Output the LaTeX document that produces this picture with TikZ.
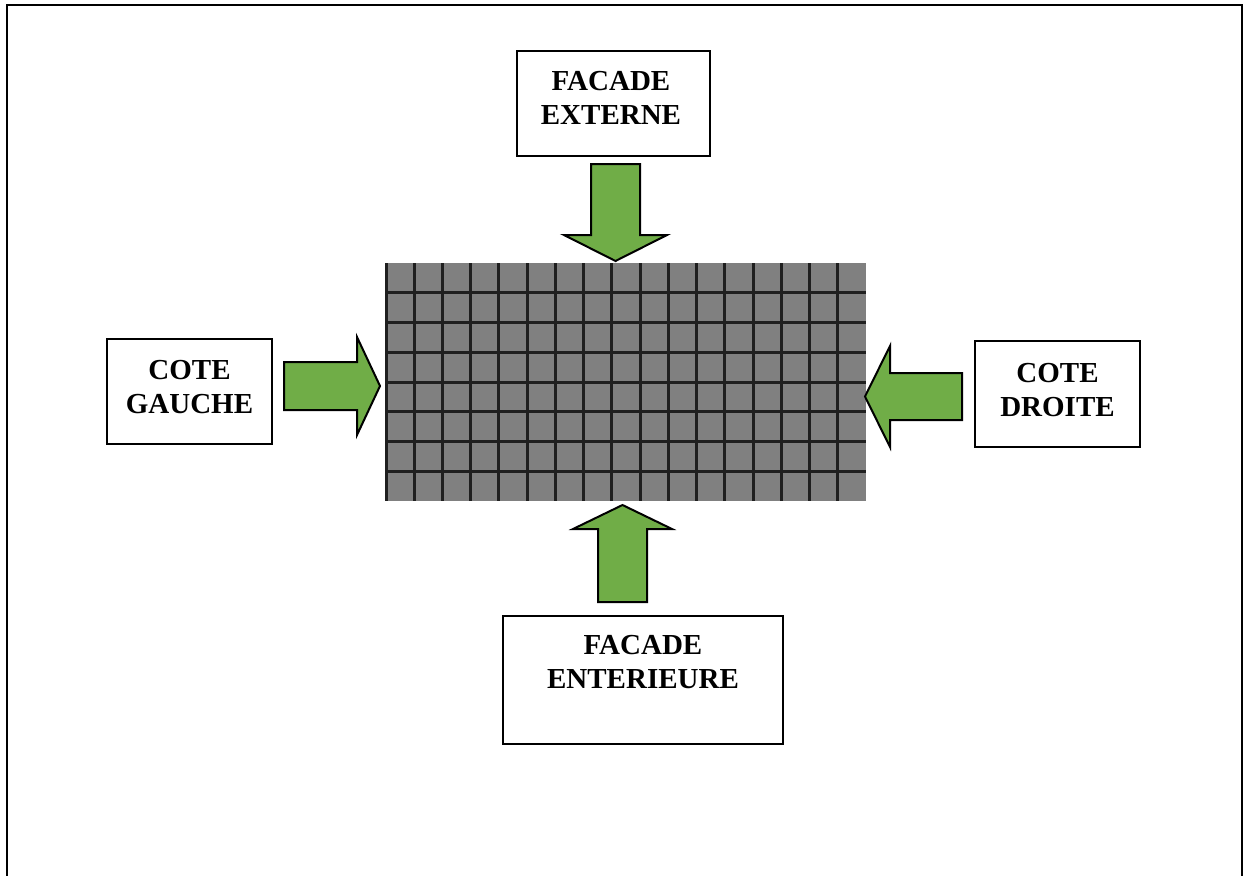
\documentclass[tikz,border=0pt]{standalone}
\usepackage{fontspec}
\setmainfont{Liberation Serif}
\usetikzlibrary{positioning}
\definecolor{arrowgreen}{HTML}{70AD47}
\definecolor{cellgray}{HTML}{808080}

\begin{document}
\begin{tikzpicture}[x=0.5pt,y=-0.5pt]
\tikzset{box/.style={draw, line width=1pt, inner sep=0pt},
	lbl/.style={font=\bfseries\fontsize{14.5}{17}\selectfont, align=center},
	bigarrow/.style={draw, line width=1pt, fill=arrowgreen, line join=miter},
	gridline/.style={line width=1.5pt, black!88}}
\useasboundingbox (0,0) rectangle (1244,875);
% cadre
\draw[line width=1.2pt] (7,880) -- (7,5) -- (1242,5) -- (1242,880);

% mur
\node[fill=cellgray, inner sep=0pt, minimum width=240pt, minimum height=119pt] (mur) at (626,382) {};
\foreach \i in {0,...,16}
	\draw[gridline] ({386+\i*480/17},263) -- ({386+\i*480/17},501);
\foreach \j in {1,...,7}
	\draw[gridline] (386,{263+\j*29.75}) -- (866,{263+\j*29.75});

% cases
\node[box, minimum width=96.5pt, minimum height=52.5pt] (externe) at (613.5,103.5) {};
\node[lbl] (externeT) at (611,98) {FACADE\\EXTERNE};
\node[box, minimum width=82.5pt, minimum height=52.5pt] (gauche) at (189.5,391.5) {};
\node[lbl] (gaucheT) at (189.5,387) {COTE\\GAUCHE};
\node[box, minimum width=82.5pt, minimum height=53pt] (droite) at (1057.5,394) {};
\node[lbl] (droiteT) at (1057.5,390) {COTE\\DROITE};
\node[box, minimum width=140pt, minimum height=64pt] (interieure) at (643,680) {};
\node[lbl] (interieureT) at (643,662.5) {FACADE\\ENTERIEURE};

% fleches
\draw[bigarrow] (591,164) -- (640,164) -- (640,235) -- (667,235) -- (615.5,261) -- (564,235) -- (591,235) -- cycle;
\draw[bigarrow] (598,602) -- (647,602) -- (647,529) -- (672,529) -- (622.5,505) -- (573,529) -- (598,529) -- cycle;
\draw[bigarrow] (284,362) -- (357,362) -- (357,337) -- (380,386) -- (357,435) -- (357,410) -- (284,410) -- cycle;
\draw[bigarrow] (962,373) -- (890,373) -- (890,346) -- (865,396.5) -- (890,447) -- (890,420) -- (962,420) -- cycle;
\end{tikzpicture}
\end{document}
